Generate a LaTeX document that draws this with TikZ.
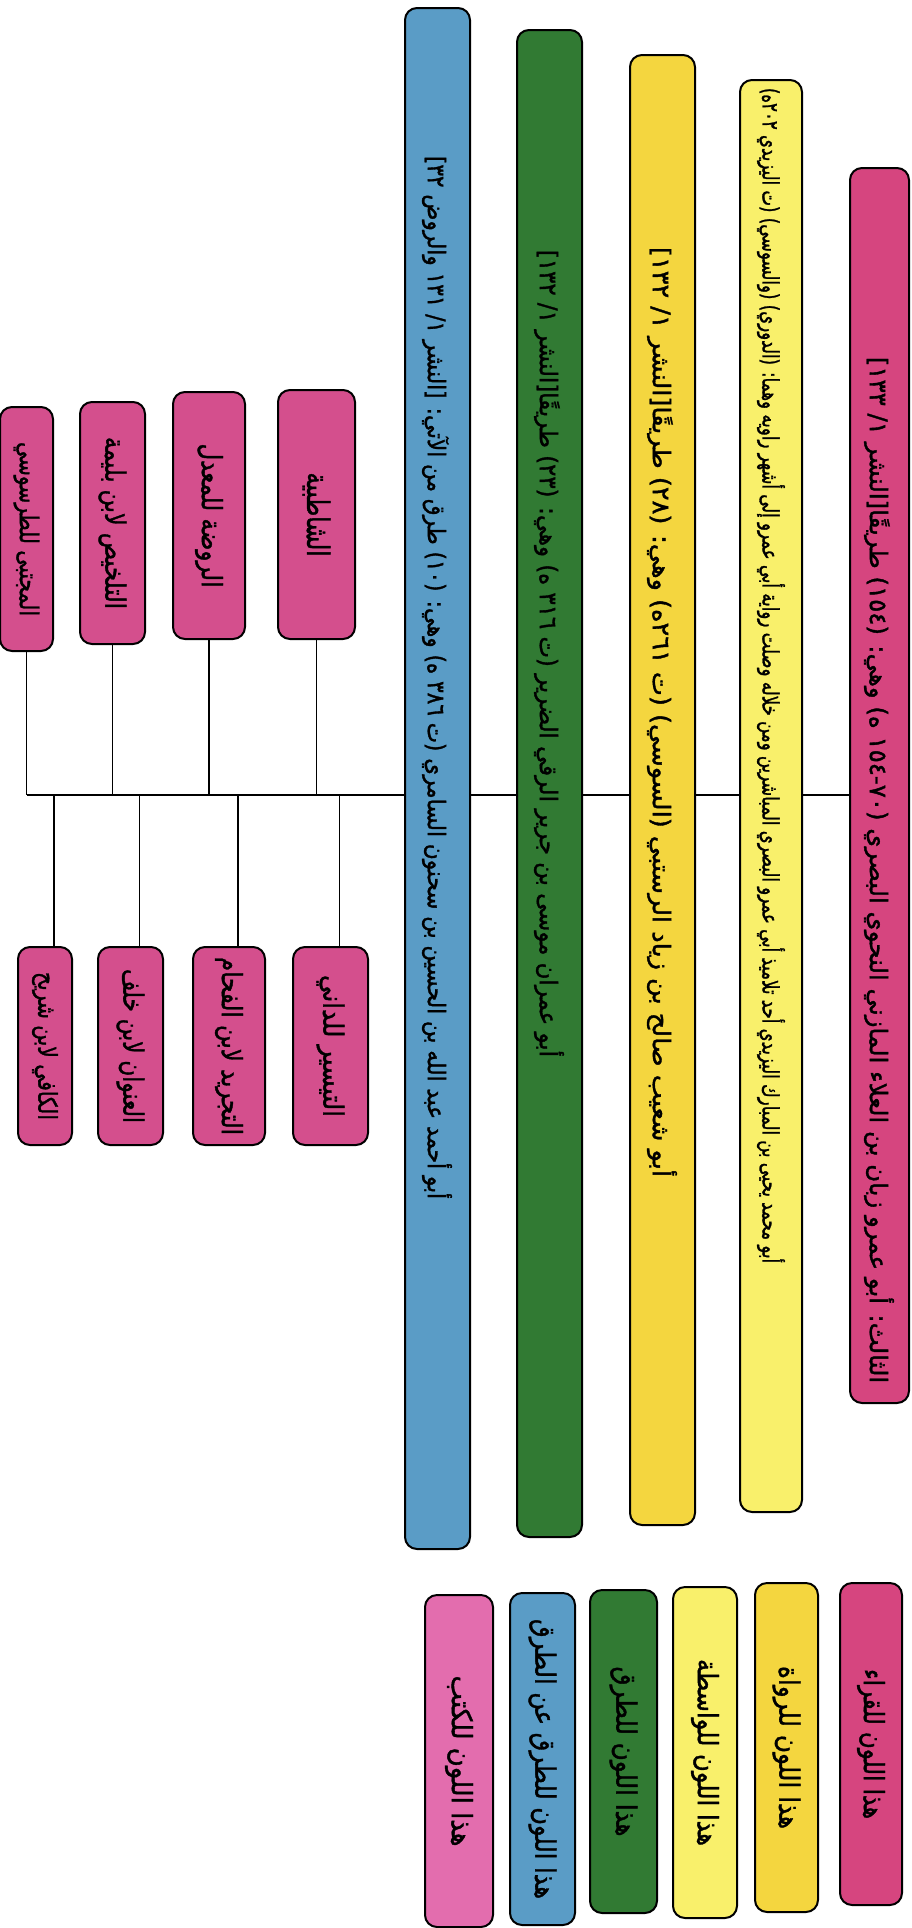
\documentclass[tikz,border=0pt]{standalone}
\usepackage{fontspec}
\usepackage{graphicx}
\usetikzlibrary{backgrounds}
\TeXXeTstate=1
\newfontfamily\arabicfont[Script=Arabic,FakeBold=1.5]{DejaVu Sans}
\newcommand\artxt[3]{\rotatebox{-90}{\resizebox*{#1pt}{#2pt}{\arabicfont #3}}}
\definecolor{cq}{HTML}{D6457F}
\definecolor{cw}{HTML}{F9F06B}
\definecolor{cr}{HTML}{F4D63F}
\definecolor{ct}{HTML}{317A33}
\definecolor{ctt}{HTML}{5A9CC6}
\definecolor{ck}{HTML}{D44F8D}
\definecolor{ckl}{HTML}{E36DAE}
\tikzset{
  box/.style={draw=black, line width=2pt, rounded corners=12pt, inner sep=0pt, outer sep=0pt},
  conn/.style={draw=black, line width=1.4pt},
  txt/.style={inner sep=0pt}
}
\begin{document}
\begin{tikzpicture}[x=1pt,y=-1pt]
\useasboundingbox (0,0) rectangle (911,1928);
% bars
\node[box, fill=cq,  minimum width=59pt, minimum height=1235pt] (q)  at (879.5,785.5) {};
\node[box, fill=cw,  minimum width=62pt, minimum height=1432pt] (w)  at (771,796) {};
\node[box, fill=cr,  minimum width=65pt, minimum height=1470pt] (r)  at (662.5,790) {};
\node[box, fill=ct,  minimum width=65pt, minimum height=1507pt] (t)  at (549.5,783.5) {};
\node[box, fill=ctt, minimum width=65pt, minimum height=1541pt] (tt) at (437.5,778.5) {};
% bar texts
\node[txt] (qx) at (879,870) {\artxt{1026}{30}{\beginR الثالث: أبو عمرو زبان بن العلاء المازني النحوي البصري (٧٠-١٥٤ ه) وهي: (١٥٤) طريقًا[النشر ١/ ١٣٣]\endR}};
\node[txt] (wx) at (771,675.5) {\artxt{1175}{28}{\beginR أبو محمد يحيى بن المبارك اليزيدي أحد تلاميذ أبي عمرو البصري المباشرين ومن خلاله وصلت رواية أبي عمرو إلى أشهر راويه وهما: (الدوري) (والسوسي) (ت اليزيدي ٢٠٢ه)\endR}};
\node[txt] (rx) at (662,712) {\artxt{930}{30}{\beginR أبو شعيب صالح بن زياد الرستبي (السوسي) (ت ٢٦١ه) وهي: (٢٨) طريقًا[النشر ١/ ١٣٢]\endR}};
\node[txt] (tx) at (549,653.5) {\artxt{807}{30}{\beginR أبو عمران موسى بن جرير الرقي الضرير (ت ٣١٦ ه) وهي: (٢٣) طريقًا[النشر ١/ ١٣٢]\endR}};
\node[txt] (ttx) at (437,677.5) {\artxt{1043}{30}{\beginR أبو أحمد عبد الله بن الحسين بن سحنون السامري (ت ٣٨٦ ه) وهي: (١٠) طرق من الآتي: [النشر ١/ ١٣١ والروض ٣٢]\endR}};
% books upper
\node[box, fill=ck, minimum width=77pt, minimum height=249pt] (b1) at (316.5,514.5) {\artxt{84}{28}{\beginR الشاطبية\endR}};
\node[box, fill=ck, minimum width=72pt, minimum height=247pt] (b2) at (209,515.5) {\artxt{144}{28}{\beginR الروضة للمعدل\endR}};
\node[box, fill=ck, minimum width=65pt, minimum height=242pt] (b3) at (112.5,523) {\artxt{172}{28}{\beginR التلخيص لابن بليمة\endR}};
\node[box, fill=ck, minimum width=53pt, minimum height=244pt] (b4) at (26.5,529) {\artxt{174}{26}{\beginR المجتبى للطرسوسي\endR}};
% books lower
\node[box, fill=ck, minimum width=75pt, minimum height=198pt] (c1) at (330.5,1046) {\artxt{142}{28}{\beginR التيسير للداني\endR}};
\node[box, fill=ck, minimum width=72pt, minimum height=198pt] (c2) at (229,1046) {\artxt{178}{28}{\beginR التجريد لابن الفحام\endR}};
\node[box, fill=ck, minimum width=65pt, minimum height=198pt] (c3) at (130.5,1046) {\artxt{154}{28}{\beginR العنوان لابن خلف\endR}};
\node[box, fill=ck, minimum width=54pt, minimum height=198pt] (c4) at (45,1046) {\artxt{148}{26}{\beginR الكافي لابن شريح\endR}};
% connectors
\coordinate (hl) at (27,795);
\begin{scope}[on background layer]
\fill[white] (0,0) rectangle (911,1928);
\draw[conn] (hl) -- (q.west |- hl);
\end{scope}
\foreach \b in {b1,b2,b3,b4} \draw[conn] (\b.south) -- (\b.south |- hl);
\foreach \c in {c1,c2,c3,c4} \draw[conn] ([xshift=9pt]\c.north) -- ([xshift=9pt]\c.north |- hl);
% legend
\node[box, fill=cq,  minimum width=62pt, minimum height=322pt] (lq)  at (871,1744) {\artxt{150}{28}{\beginR هذا اللون للقراء\endR}};
\node[box, fill=cr,  minimum width=63pt, minimum height=329pt] (lr)  at (786.5,1747.5) {\artxt{163}{28}{\beginR هذا اللون للرواة\endR}};
\node[box, fill=cw,  minimum width=64pt, minimum height=331pt] (lw)  at (705,1752.5) {\artxt{187}{28}{\beginR هذا اللون للواسطة\endR}};
\node[box, fill=ct,  minimum width=67pt, minimum height=323pt] (lt)  at (623.5,1751.5) {\artxt{170}{28}{\beginR هذا اللون للطرق\endR}};
\node[box, fill=ctt, minimum width=65pt, minimum height=332pt] (ltt) at (542.5,1759) {\artxt{280}{28}{\beginR هذا اللون للطرق عن الطرق\endR}};
\node[box, fill=ckl, minimum width=68pt, minimum height=332pt] (lk)  at (459,1761) {\artxt{171}{28}{\beginR هذا اللون للكتب\endR}};
\end{tikzpicture}
\end{document}
